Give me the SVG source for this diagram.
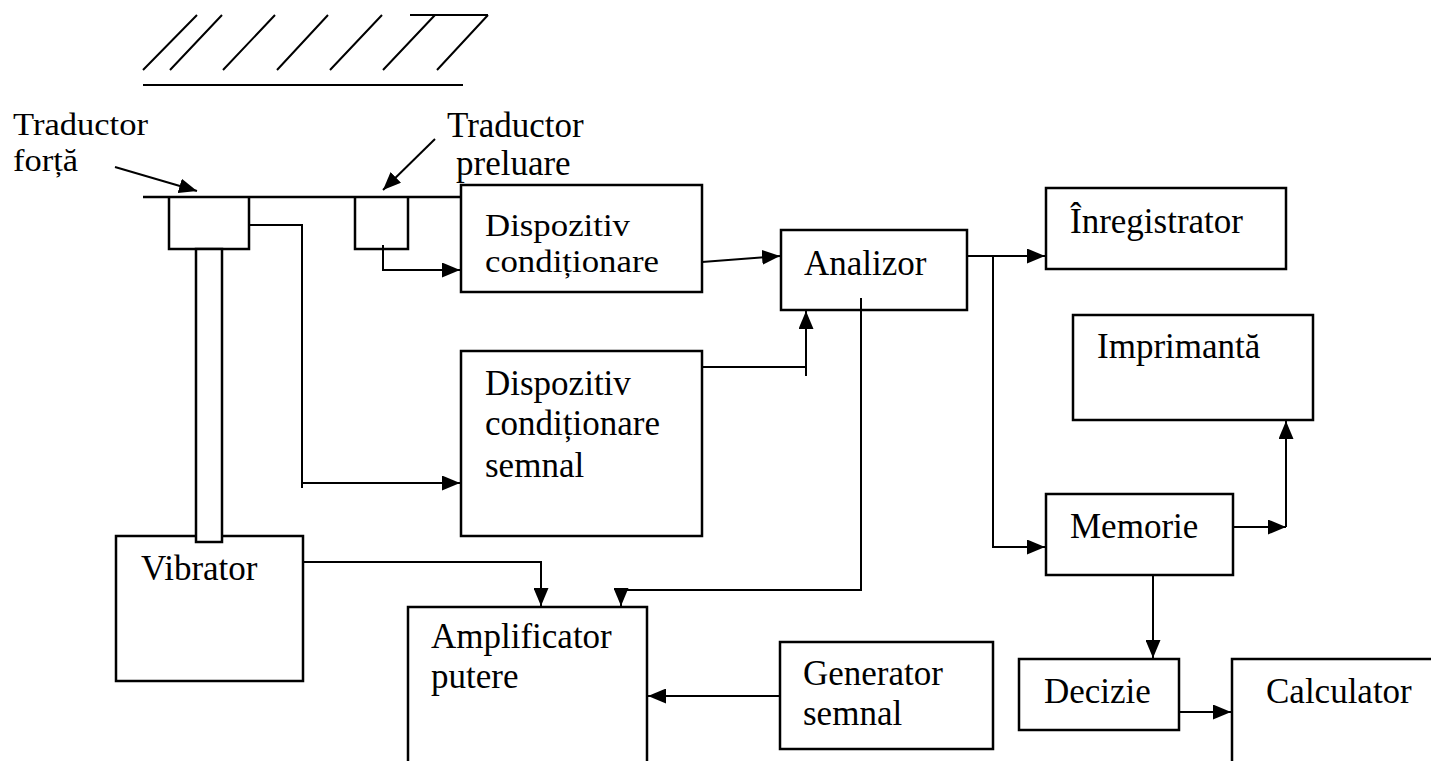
<svg xmlns="http://www.w3.org/2000/svg" width="1431" height="761" viewBox="0 0 1431 761">
<style>
text{font-family:"Liberation Serif","Times New Roman",serif;font-size:35px;fill:#000}
text.t{font-size:32px}
.b{fill:#fff;stroke:#000;stroke-width:2.5}
.o{fill:none;stroke:#000;stroke-width:2.5}
.c{fill:none;stroke:#000;stroke-width:2}
</style>
<defs>
<marker id="ah" markerUnits="userSpaceOnUse" markerWidth="19" markerHeight="15" refX="18" refY="7.5" orient="auto"><path d="M0,0 L18,7.5 L0,15 z" fill="#000"/></marker>
</defs>
<rect width="1431" height="761" fill="#fff"/>
<g id="ground">
<path class="c" d="M143,70 L197,15 M170,70 L222,15 M223,70 L275,15 M277,70 L328,15 M330,70 L382,15 M383,70 L435,15 M437,70 L488,15 M410,15 H488 M143,85 H463"/>
</g>
<g id="beam"><path class="o" d="M143,197 H460"/></g>
<g id="traductor-forta">
<path class="o" d="M169,197 V249 H249 V197"/>
<text class="t" x="13" y="135" textLength="135" lengthAdjust="spacingAndGlyphs">Traductor</text>
<text class="t" x="13" y="171" textLength="65" lengthAdjust="spacingAndGlyphs">forță</text>
</g>
<g id="traductor-preluare">
<path class="o" d="M355,197 V249 H408 V197"/>
<text x="447" y="137">Traductor</text>
<text x="456" y="175">preluare</text>
</g>
<g id="vibrator">
<rect class="b" x="116" y="536" width="187" height="145"/>
<rect class="b" x="196" y="249" width="26" height="293"/>
<text x="141" y="580">Vibrator</text>
</g>
<g id="cond1">
<rect class="b" x="461" y="185" width="241" height="107"/>
<text class="t" x="485" y="236" textLength="145" lengthAdjust="spacingAndGlyphs">Dispozitiv</text>
<text class="t" x="485" y="272" textLength="174" lengthAdjust="spacingAndGlyphs">condiționare</text>
</g>
<g id="cond2">
<rect class="b" x="461" y="351" width="241" height="185"/>
<text x="485" y="395">Dispozitiv</text>
<text x="485" y="435">condiționare</text>
<text x="485" y="477">semnal</text>
</g>
<g id="analizor">
<rect class="b" x="781" y="230" width="186" height="80"/>
<text x="804" y="275">Analizor</text>
</g>
<g id="inregistrator">
<rect class="b" x="1046" y="188" width="240" height="81"/>
<text x="1070" y="233">Înregistrator</text>
</g>
<g id="imprimanta">
<rect class="b" x="1073" y="315" width="240" height="105"/>
<text x="1097" y="358">Imprimantă</text>
</g>
<g id="memorie">
<rect class="b" x="1046" y="494" width="187" height="81"/>
<text x="1070" y="538">Memorie</text>
</g>
<g id="amplificator">
<path class="o" d="M408,761 V607 H647 V761"/>
<text x="431" y="648">Amplificator</text>
<text x="431" y="688">putere</text>
</g>
<g id="generator">
<rect class="b" x="780" y="642" width="213" height="107"/>
<text x="803" y="685">Generator</text>
<text x="803" y="725">semnal</text>
</g>
<g id="decizie">
<rect class="b" x="1019" y="659" width="160" height="71"/>
<text x="1044" y="703">Decizie</text>
</g>
<g id="calculator">
<path class="o" d="M1232,761 V659 H1431"/>
<text x="1266" y="703">Calculator</text>
</g>
<g id="connectors">
<path class="c" d="M115,167 L197,191" marker-end="url(#ah)"/>
<path class="c" d="M435,139 L383,190" marker-end="url(#ah)"/>
<path class="c" d="M383,245 V270 H460" marker-end="url(#ah)"/>
<path class="c" d="M249,225 H302 V488"/>
<path class="c" d="M302,483 H460" marker-end="url(#ah)"/>
<path class="c" d="M702,262 L780,256" marker-end="url(#ah)"/>
<path class="c" d="M702,367 H806"/>
<path class="c" d="M806,376 V311" marker-end="url(#ah)"/>
<path class="c" d="M861,298 V590 H621 V606" marker-end="url(#ah)"/>
<path class="c" d="M303,562 H541 V606" marker-end="url(#ah)"/>
<path class="c" d="M780,696 H648" marker-end="url(#ah)"/>
<path class="c" d="M967,256 H1045" marker-end="url(#ah)"/>
<path class="c" d="M993,256 V547 H1045" marker-end="url(#ah)"/>
<path class="c" d="M1233,527 H1286" marker-end="url(#ah)"/>
<path class="c" d="M1286,527 V421" marker-end="url(#ah)"/>
<path class="c" d="M1153,575 V658" marker-end="url(#ah)"/>
<path class="c" d="M1179,712 H1231" marker-end="url(#ah)"/>
</g>
</svg>
